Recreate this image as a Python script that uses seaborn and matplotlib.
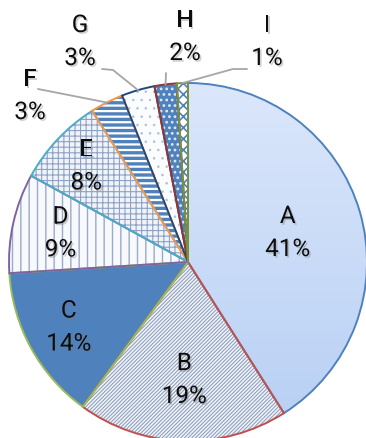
import numpy as np
import matplotlib
matplotlib.use("Agg")
import matplotlib.pyplot as plt
import matplotlib.patheffects as pe
from matplotlib.colors import LinearSegmentedColormap
import seaborn as sns

# ---- data -------------------------------------------------------------
categories = ["A", "B", "C", "D", "E", "F", "G", "H", "I"]
shares = [41, 19, 14, 9, 8, 3, 3, 2, 1]
pct_labels = [f"{v}%" for v in shares]

# ---- styling ----------------------------------------------------------
face_colors = ["#c6daf8", "#eef2f9", "#4f81bd", "#f7f9fd", "#f0f4fa",
               "#ffffff", "#fbfcfe", "#4f81bd", "#ffffff"]
hatch_colors = ["#c6daf8", "#8a9bb6", "#4f81bd", "#9aabc8", "#8ea3c4",
                "#4f81bd", "#b3c0d3", "#dfe8f5", "#4f81bd"]
hatches = [None, "/" * 9, None, "||", "+++", "---", "..", "...", "xxx"]
hatch_widths = [1.0, 0.7, 1.0, 1.0, 0.8, 2.4, 0.6, 1.2, 1.2]
border_colors = ["#4f81bd", "#c0504d", "#9bbb59", "#8064a2", "#4bacc6",
                 "#f79646", "#1f497d", "#943634", "#77933c"]

sns.set_theme(style="white")
plt.rcParams["font.family"] = ["Roboto", "DejaVu Sans"]

W, H = 366, 439
R = 179.0            # pie radius in pixels
CX, CY = 188, 263    # pie centre in pixels


def px(x, y):
    """pixel position (from top-left) -> data coordinates"""
    return (x - CX) / R, (CY - y) / R


fig = plt.figure(figsize=(W / 100, H / 100), dpi=100)
ax = fig.add_axes([0, 0, 1, 1])

# hatched fill layer, one wedge at a time so each keeps its own hatch width
fill_wedges = []
for i in range(len(shares)):
    plt.rcParams["hatch.linewidth"] = hatch_widths[i]
    ws, _ = ax.pie(shares, startangle=90, counterclock=False,
                   colors=face_colors, radius=1.0, center=(0, 0),
                   wedgeprops=dict(linewidth=0))
    for j, w in enumerate(ws):
        if j != i:
            w.remove()
    w = ws[i]
    w.set_edgecolor(hatch_colors[i])
    if hatches[i]:
        w.set_hatch(hatches[i])
    if hasattr(w, "set_hatch_linewidth"):
        w.set_hatch_linewidth(hatch_widths[i])
    fill_wedges.append(w)

# soft vertical gradient in the largest slice
grad = np.linspace(0, 1, 256).reshape(-1, 1)
cmap = LinearSegmentedColormap.from_list("blue_grad", ["#b7cff4", "#dbe7fb"])
im = ax.imshow(grad, extent=[0, 1, -1, 1], origin="lower", cmap=cmap,
               aspect="auto", zorder=1.5)
im.set_clip_path(fill_wedges[0])

# border layer
edge_wedges, _ = ax.pie(shares, startangle=90, counterclock=False,
                        colors=["none"] * len(shares), radius=1.0,
                        center=(0, 0))
for w, bc in zip(edge_wedges, border_colors):
    w.set_facecolor("none")
    w.set_edgecolor(bc)
    w.set_linewidth(1.4)
    w.set_zorder(3)

ax.set_xlim(-CX / R, (W - CX) / R)
ax.set_ylim(-(H - CY) / R, CY / R)
ax.set_aspect("auto")
ax.axis("off")

# ---- labels -----------------------------------------------------------
shadow = [pe.withSimplePatchShadow(offset=(1.2, -1.2), shadow_rgbFace="#777777",
                                   alpha=0.35)]
text_kw = dict(ha="center", va="center", fontsize=17.5, color="#0d0d0d",
               zorder=5, path_effects=shadow)
gap = 16.5 / R

# labels inside the larger slices: distance from centre per slice
inner_dist = {"A": 0.58, "B": 0.66, "C": 0.76, "D": 0.73, "E": 0.78}
# labels outside the thin slices: label centre and leader start (pixels)
outer_pos = {"F": ((30, 97), [(38, 90)]),
             "G": ((80, 43), [(102, 70), (113, 71)]),
             "H": ((185, 38), [(166, 74)]),
             "I": ((267, 43), [(247, 70), (233, 70)])}

angles = []
a0 = 90.0
for v in shares:
    span = 360.0 * v / sum(shares)
    angles.append(a0 - span / 2)
    a0 -= span

for cat, pct, ang in zip(categories, pct_labels, angles):
    t = np.deg2rad(ang)
    if cat in inner_dist:
        d = inner_dist[cat]
        x, y = d * np.cos(t), d * np.sin(t)
    else:
        (lx, ly), pts = outer_pos[cat]
        x, y = px(lx, ly)
        path = [px(*p) for p in pts] + [(np.cos(t), np.sin(t))]
        xs, ys = zip(*path)
        ax.plot(xs, ys, color="#a6a6a6", lw=1.3, zorder=4,
                solid_capstyle="round")
    ax.text(x, y + gap, cat, **text_kw)
    ax.text(x, y - gap, pct, **text_kw)

fig.savefig("out.png", dpi=100, facecolor="white")
